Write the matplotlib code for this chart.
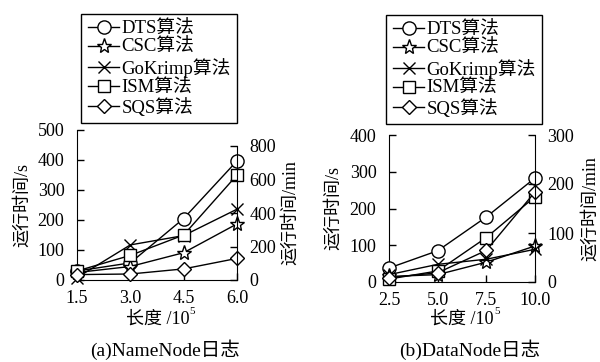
import matplotlib
matplotlib.use('Agg')
import matplotlib.pyplot as plt

plt.rcParams['font.family'] = ['Liberation Serif', 'Noto Sans CJK SC']

W, H = 600, 362

names = ['DTS算法', 'CSC算法', 'GoKrimp算法', 'ISM算法', 'SQS算法']
markers = ['o', '*', 'x', 's', 'D']
msizes = [9.5, 11, 9, 9, 7]

# (a) NameNode
x_a = [1.5, 3.0, 4.5, 6.0]
dts_a = [30, 57, 205, 397]
csc_a = [25, 45, 91, 187]
gok_a = [8, 117, 148, 236]
ism_a = [30, 82, 150, 350]
sqs_a = [18, 20, 37, 72]

# (b) DataNode
x_b = [2.5, 5.0, 7.5, 10.0]
dts_b = [38, 85, 177, 283]
csc_b = [15, 20, 54, 98]
gok_b = [20, 48, 62, 89]
ism_b = [8, 30, 121, 232]
sqs_b = [12, 25, 86, 245]

fig = plt.figure(figsize=(6, 3.62), dpi=100)


def px_rect(l, r, top, bot):
    return [l / W, 1 - bot / H, (r - l) / W, (bot - top) / H]


def ftext(x, y, s, **kw):
    return fig.text(x / W, 1 - y / H, s, **kw)


def panel(l, r, top, bot, rtop, xs, series, xlim, ylim, yticks,
          rlim, rticks, leg_xy, ylab_x, caption):
    ax = fig.add_axes(px_rect(l, r, top, bot))
    for ys, m, ms, nm in zip(series, markers, msizes, names):
        ax.plot(xs, ys, color='black', lw=1, marker=m, ms=ms,
                mfc='white', mec='black', mew=1, label=nm, clip_on=False,
                zorder=3)
    ax.set_xlim(xlim)
    ax.set_ylim(ylim)
    ax.set_xticks(xs)
    ax.set_xticklabels([f'{v:.1f}' for v in xs])
    ax.set_yticks(yticks)
    ax.spines['top'].set_visible(False)
    ax.spines['right'].set_visible(False)
    ax.tick_params(direction='in', length=5, labelsize=13, width=1)
    ax.tick_params(axis='y', pad=9)
    ax.tick_params(axis='x', pad=7)
    ax.patch.set_alpha(0)

    ar = fig.add_axes(px_rect(l, r, rtop, bot))
    ar.patch.set_alpha(0)
    for s in ['top', 'left', 'bottom']:
        ar.spines[s].set_visible(False)
    ar.set_xticks([])
    ar.yaxis.tick_right()
    ar.set_ylim(rlim)
    ar.set_yticks(rticks)
    ar.tick_params(direction='in', length=5, labelsize=13, width=1, pad=9)

    # axis titles
    cy = (top + bot) / 2
    ftext(ylab_x[0], cy, '运行时间/s', rotation=90, ha='center', va='center',
          fontsize=13)
    ftext(ylab_x[1], (rtop + bot) / 2, '运行时间/min', rotation=90,
          ha='center', va='center', fontsize=13)
    cx = (l + r) / 2
    ftext(cx + 32, 319, '长度 /10', ha='right', va='center', fontsize=13)
    ftext(cx + 32, 312, '5', ha='left', va='center', fontsize=8)
    ftext(cx + 8, 350, caption, ha='center', va='center', fontsize=14)

    leg = ax.legend(loc='upper left', bbox_to_anchor=(leg_xy[0] / W, 1 - leg_xy[1] / H),
                    bbox_transform=fig.transFigure, fontsize=13.5, frameon=True,
                    fancybox=False, edgecolor='black', framealpha=1,
                    handlelength=1.7, handletextpad=0.1, borderpad=0.35,
                    labelspacing=0.08, borderaxespad=0)
    leg.get_frame().set_linewidth(1)


panel(77, 237, 130, 280, 146, x_a, [dts_a, csc_a, gok_a, ism_a, sqs_a],
      (1.5, 6.0), (0, 500), [0, 100, 200, 300, 400, 500],
      (0, 800), [0, 200, 400, 600, 800], (81, 14), (23, 291), '(a)NameNode日志')
panel(389, 535, 135, 282, 135, x_b, [dts_b, csc_b, gok_b, ism_b, sqs_b],
      (2.5, 10.0), (0, 400), [0, 100, 200, 300, 400],
      (0, 300), [0, 100, 200, 300], (386, 15), (334, 591), '(b)DataNode日志')

fig.savefig('out.png', dpi=100)
